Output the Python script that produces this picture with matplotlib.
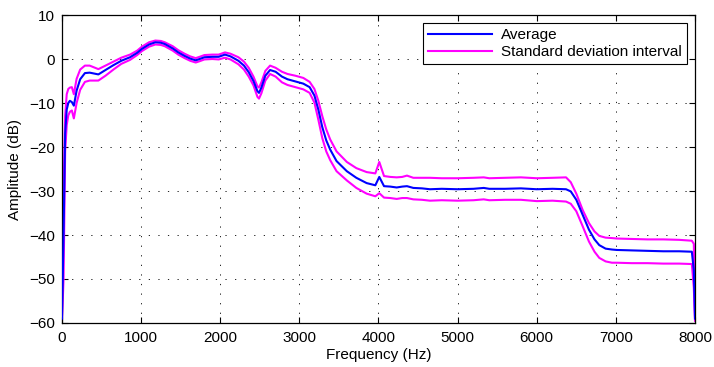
import numpy as np
import matplotlib.pyplot as plt

plt.rcParams['font.family'] = ['Liberation Sans', 'DejaVu Sans']
plt.rcParams['font.size'] = 11

# frequency points (Hz) and curves (dB)
freq = [0, 20, 40, 60, 80, 100, 125, 150, 185, 230, 290, 350, 460, 550, 650, 750,
        860, 950, 1010, 1100, 1180, 1250, 1300, 1400, 1470, 1550, 1620, 1690, 1740,
        1800, 1900, 1980, 2060, 2130, 2230, 2300, 2360, 2420, 2470, 2490, 2520, 2570,
        2630, 2700, 2780, 2850, 2950, 3050, 3130, 3190, 3240, 3290, 3340, 3390, 3470,
        3600, 3720, 3850, 3960, 4010, 4070, 4150, 4230, 4300, 4360, 4440, 4550, 4650,
        4800, 5000, 5200, 5330, 5400, 5600, 5800, 6000, 6200, 6370, 6430, 6500, 6580,
        6660, 6730, 6790, 6870, 6950, 7010, 7200, 7400, 7600, 7800, 7960, 7985, 8000]

average = [-59, -40, -17, -11.5, -10, -9.5, -9.8, -10.6, -7.2, -4.6, -3.2, -3.1, -3.5,
           -2.5, -1.4, -0.4, 0.4, 1.4, 2.3, 3.3, 3.8, 3.7, 3.4, 2.4, 1.5, 0.7, 0.1,
           -0.3, 0.0, 0.4, 0.5, 0.5, 1.0, 0.6, -0.4, -1.5, -3.0, -5.0, -7.3, -7.7,
           -6.5, -3.8, -2.5, -2.9, -4.0, -4.6, -5.1, -5.6, -6.4, -8.3, -11.5, -15.5,
           -18.5, -20.6, -23.2, -25.5, -27.0, -28.2, -28.7, -26.8, -28.9, -29.0,
           -29.2, -29.0, -28.9, -29.3, -29.4, -29.6, -29.5, -29.6, -29.5, -29.3,
           -29.5, -29.5, -29.4, -29.6, -29.5, -29.6, -30.1, -32.0, -35.4, -38.8,
           -41.0, -42.3, -43.1, -43.3, -43.4, -43.5, -43.6, -43.7, -43.7, -43.8, -48,
           -59]

upper = [-58, -30, -13, -8, -6.8, -6.5, -6.4, -8.0, -4.5, -2.4, -1.5, -1.5, -2.3,
         -1.5, -0.6, 0.3, 1.0, 1.9, 2.8, 3.8, 4.2, 4.1, 3.8, 2.9, 2.0, 1.2, 0.6,
         0.2, 0.5, 0.9, 1.0, 1.0, 1.5, 1.2, 0.4, -0.6, -2.0, -4.0, -6.2, -6.5,
         -5.3, -2.7, -1.5, -2.0, -2.9, -3.4, -3.8, -4.3, -5.2, -6.8, -9.5, -13,
         -16, -18.3, -21.0, -23.4, -24.8, -25.7, -26.0, -23.4, -26.6, -26.8,
         -26.9, -26.8, -26.5, -27.0, -27.0, -27.0, -27.1, -27.1, -27.0, -26.9,
         -27.1, -27.0, -26.9, -27.1, -27.0, -26.9, -28.0, -30.6, -34.3, -37.3,
         -39.2, -40.2, -40.6, -40.7, -40.8, -40.9, -41.0, -41.0, -41.1, -41.3,
         -42.0, -59]

lower = [-59.5, -50, -21, -15, -12.8, -12, -11.7, -13.5, -10, -7, -5.2, -4.9, -4.9,
         -3.8, -2.4, -1.1, -0.2, 0.9, 1.8, 2.8, 3.3, 3.2, 2.9, 1.9, 1.0, 0.2, -0.4,
         -0.8, -0.5, -0.1, 0.0, -0.1, 0.3, -0.1, -1.2, -2.4, -4.0, -6.0, -8.6, -9.0,
         -7.8, -4.9, -3.4, -4.0, -5.3, -5.9, -6.4, -6.9, -7.7, -9.9, -13.8, -18.0,
         -21.0, -23.0, -25.5, -27.6, -29.3, -30.6, -31.2, -30.5, -31.5, -31.6,
         -31.8, -31.6, -31.6, -31.9, -32.0, -32.2, -32.1, -32.2, -32.1, -31.9,
         -32.1, -32.0, -32.0, -32.3, -32.2, -32.4, -32.9, -34.6, -38.0, -41.5,
         -43.8, -45.2, -46.0, -46.3, -46.3, -46.4, -46.4, -46.5, -46.5, -46.6,
         -52.0, -59.5]

fig = plt.figure(figsize=(7.14, 3.67), dpi=100)
ax = fig.add_axes([0.0868, 0.1199, 0.8866, 0.8392])

ax.plot(freq, average, color='#0000ff', lw=1.5, label='Average', zorder=3)
ax.plot(freq, upper, color='#ff00ff', lw=1.5, label='Standard deviation interval', zorder=2)
ax.plot(freq, lower, color='#ff00ff', lw=1.5, zorder=2)

ax.set_xlim(0, 8000)
ax.set_ylim(-60, 10)
ax.set_xticks(np.arange(0, 8001, 1000))
ax.set_yticks(np.arange(-60, 11, 10))
ax.tick_params(direction='in', top=True, right=True, length=4, width=0.8, labelsize=11)
ax.tick_params(axis='x', pad=6)
ax.tick_params(axis='y', pad=5)
ax.grid(True, color='black', linestyle=(0, (1.5, 10)), linewidth=0.6)
for s in ax.spines.values():
    s.set_linewidth(0.9)

ax.set_xlabel('Frequency (Hz)', labelpad=2)
ax.set_ylabel('Amplitude (dB)', labelpad=5)

leg = ax.legend(loc='upper right', fancybox=False, framealpha=1, edgecolor='black',
                handlelength=4.2, borderaxespad=0.5, borderpad=0.35, labelspacing=0.2,
                handletextpad=0.6)
leg.get_frame().set_linewidth(0.8)

fig.savefig('out.png', dpi=100)
